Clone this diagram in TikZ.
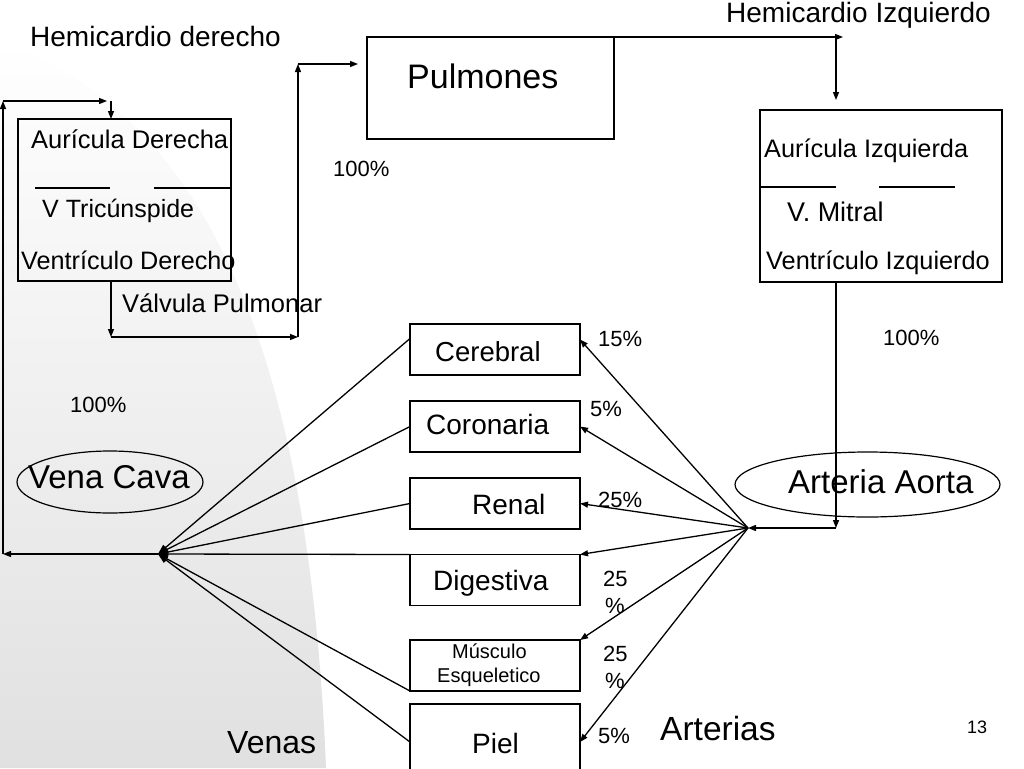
\documentclass[tikz,border=0pt]{standalone}
\usepackage{fontspec}
\setmainfont{Liberation Sans}
\usetikzlibrary{arrows.meta,shapes.geometric}
\begin{document}
\begin{tikzpicture}[x=1pt,y=-1pt,
  box/.style={draw,line width=1.2pt,inner sep=0pt,outer sep=0pt},
  oval/.style={draw,ellipse,line width=1.2pt,inner sep=0pt,outer sep=0pt},
  con/.style={line width=1.3pt},
  arr/.style={con,-{Triangle[length=8pt,width=6pt]}},
  varr/.style={con,-{Triangle[length=10pt,width=7pt]}},
  lbl/.style={inner sep=0pt,anchor=base west,font=\fontsize{#1}{#1}\selectfont},
]
\useasboundingbox (0,0) rectangle (1024,768);
% background
\shade[top color=white,bottom color=black!12] (0,40) .. controls (220,120) and (310,380) .. (326,768) -- (0,768) -- cycle;

% boxes
\node[box,minimum width=213pt,minimum height=162pt] (rh) at (124.5,200) {};
\node[box,minimum width=247pt,minimum height=102pt] (pul) at (490.5,88) {};
\node[box,minimum width=242pt,minimum height=172pt] (lh) at (881,196) {};
\node[box,minimum width=170pt,minimum height=51pt] (cer) at (495,349.5) {};
\node[box,minimum width=170pt,minimum height=51pt] (cor) at (495,426.5) {};
\node[box,minimum width=170pt,minimum height=51pt] (ren) at (495,503.5) {};
\node[box,minimum width=170pt,minimum height=51pt] (dig) at (495,580) {};
\node[box,minimum width=170pt,minimum height=51pt] (mus) at (495,665.5) {};
\node[box,minimum width=170pt,minimum height=68pt] (piel) at (495,738) {};
\node[oval,minimum width=186pt,minimum height=62pt] (vc) at (110,482) {};
\node[oval,minimum width=265pt,minimum height=65pt] (ao) at (867.5,484.5) {};

% valve lines
\draw[con] (35,188) -- (110,188) (154,188) -- (231,188);
\draw[con] (760,187) -- (836,187) (879,187) -- (955,187);

% texts
\node[lbl=28] (t1) at (30,46) {Hemicardio derecho};
\node[lbl=28] (t2) at (726,23) {Hemicardio Izquierdo};
\node[lbl=34] (t3) at (407,88) {Pulmones};
\node[lbl=25.5] (t4) at (31,148) {Aurícula Derecha};
\node[lbl=25] (t5) at (42,217) {V Tricúnspide};
\node[lbl=25.2] (t6) at (21,269) {Ventrículo Derecho};
\node[lbl=25.5] (t7) at (122,312) {Válvula Pulmonar};
\node[lbl=22] (t8) at (333,176) {100\%};
\node[lbl=25.3] (t9) at (764,157) {Aurícula Izquierda};
\node[lbl=27] (t10) at (787,221) {V. Mitral};
\node[lbl=25.3] (t11) at (766,269) {Ventrículo Izquierdo};
\node[lbl=22] (t12) at (883,345) {100\%};
\node[lbl=33] (t13) at (788,493) {Arteria Aorta};
\node[lbl=33] (t14) at (28,488) {Vena Cava};
\node[lbl=22] (t15) at (70,412) {100\%};
\node[lbl=22] (t16) at (598,346) {15\%};
\node[lbl=27.5] (t17) at (435,361) {Cerebral};
\node[lbl=22] (t18) at (590,416) {5\%};
\node[lbl=28] (t19) at (426,434) {Coronaria};
\node[lbl=28] (t20) at (472,514) {Renal};
\node[lbl=22] (t21) at (598,507) {25\%};
\node[lbl=28] (t22) at (433,590) {Digestiva};
\node[lbl=22] (t23) at (603,586) {25};
\node[lbl=22] (t24) at (605,613) {\%};
\node[lbl=20] (t25) at (452,658) {Músculo};
\node[lbl=20] (t26) at (437,682) {Esqueletico};
\node[lbl=22] (t27) at (603,661) {25};
\node[lbl=22] (t28) at (605,688) {\%};
\node[lbl=22] (t29) at (598,743) {5\%};
\node[lbl=33.5] (t30) at (660,740) {Arterias};
\node[lbl=28] (t31) at (472,753) {Piel};
\node[lbl=32] (t32) at (227,753) {Venas};
\node[lbl=18] (t33) at (967,733) {13};

% connector points
\coordinate (vf) at (158,554);
\coordinate (af) at (748,528);
\coordinate (vl) at (3,554);
\coordinate (vt) at (3,101);
\coordinate (rtop) at (111,101);
\coordinate (rbot) at (111,337);
\coordinate (pbot) at (298,337);
\coordinate (ptop) at (298,64);
\coordinate (ltop) at (836,37);
\coordinate (lbot) at (836,528);

% main circuit
\draw[arr] (vf) -- (vl);
\draw[arr] (vl) -- (vt);
\draw[arr] (vt) -- ([xshift=-4pt]rtop);
\draw[arr] (rtop) -- (rtop |- rh.north);
\draw[arr] (rh.south -| rbot) -- (rbot);
\draw[arr] (rbot) -- (pbot);
\draw[arr] (pbot) -- (ptop);
\draw[arr] (ptop) -- ([xshift=-9pt]pul.west |- ptop);
\draw[arr] (pul.north east) -- ([xshift=7pt]ltop);
\draw[arr] (ltop) -- ([yshift=10pt]ltop |- lh.north);
\draw[arr] (lh.south -| lbot) -- (lbot);
\draw[arr] (lbot) -- (af);

% arteries
\draw[arr] (af) -- ([yshift=10pt]cer.east);
\draw[arr] (af) -- (cor.east);
\draw[arr] (af) -- (ren.east);
\draw[arr] (af) -- (dig.north east);
\draw[arr] (af) -- (mus.north east);
\draw[arr] (af) -- ([yshift=-4pt]piel.east);

% veins
\draw[varr] ([yshift=11pt]cer.west) -- (vf);
\draw[varr] (cor.west) -- (vf);
\draw[varr] (ren.west) -- (vf);
\draw[varr] (dig.north west) -- (vf);
\draw[varr] (mus.south west) -- (vf);
\draw[varr] ([yshift=-4pt]piel.west) -- (vf);
\end{tikzpicture}
\end{document}
